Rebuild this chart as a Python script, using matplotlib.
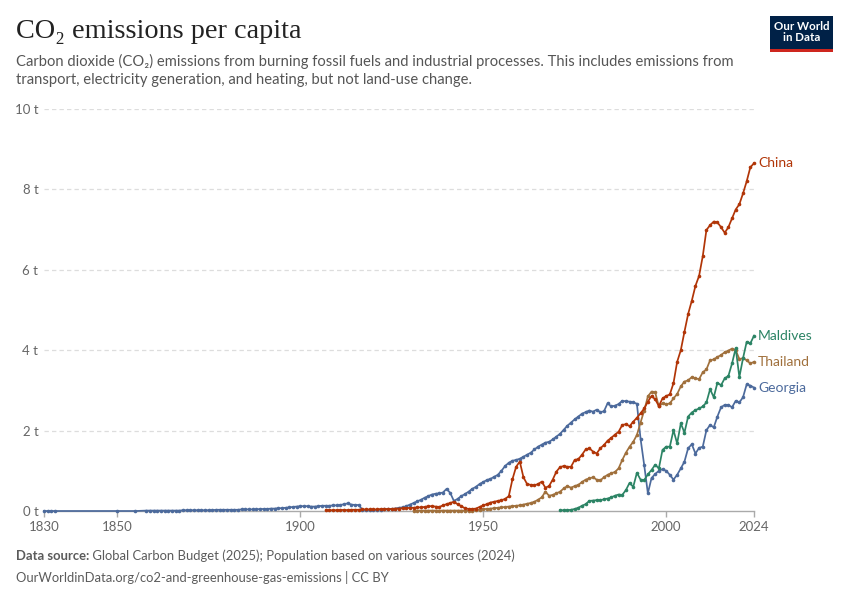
import matplotlib
matplotlib.use("Agg")
import matplotlib.pyplot as plt
from matplotlib.patches import Rectangle

# ---------------- data (tonnes CO2 per person) ----------------
georgia_years = [1830, 1831, 1832, 1833, 1850, 1855] + list(range(1858, 2025))
georgia_values = [
    0.0, 0.0, 0.0, 0.0, 0.0, 0.0,
    # 1858-1869
    0.01, 0.01, 0.01, 0.01, 0.01, 0.01, 0.01, 0.01, 0.01, 0.01, 0.02, 0.02,
    # 1870-1879
    0.02, 0.02, 0.02, 0.02, 0.02, 0.02, 0.02, 0.03, 0.03, 0.03,
    # 1880-1889
    0.03, 0.03, 0.03, 0.03, 0.04, 0.04, 0.04, 0.04, 0.04, 0.05,
    # 1890-1899
    0.05, 0.05, 0.06, 0.06, 0.07, 0.07, 0.08, 0.09, 0.10, 0.11,
    # 1900-1916
    0.12, 0.12, 0.12, 0.11, 0.11, 0.12, 0.13, 0.13, 0.13, 0.14, 0.14, 0.15, 0.17, 0.19, 0.16, 0.15, 0.15,
    # 1917-1929
    0.03, 0.02, 0.02, 0.02, 0.03, 0.03, 0.04, 0.04, 0.05, 0.06, 0.08, 0.09, 0.12,
    # 1930-1939
    0.16, 0.20, 0.24, 0.28, 0.33, 0.37, 0.41, 0.43, 0.44, 0.46,
    # 1940-1949
    0.55, 0.45, 0.25, 0.30, 0.37, 0.42, 0.48, 0.55, 0.60, 0.67,
    # 1950-1959
    0.72, 0.77, 0.80, 0.85, 0.90, 1.00, 1.12, 1.20, 1.25, 1.27,
    # 1960-1969
    1.30, 1.35, 1.40, 1.45, 1.53, 1.60, 1.65, 1.70, 1.72, 1.78,
    # 1970-1979
    1.85, 1.92, 2.02, 2.12, 2.20, 2.28, 2.35, 2.42, 2.46, 2.50,
    # 1980-1989
    2.47, 2.52, 2.46, 2.48, 2.68, 2.60, 2.62, 2.66, 2.74, 2.73,
    # 1990-1999
    2.72, 2.70, 2.67, 1.80, 1.14, 0.44, 0.82, 0.92, 1.00, 1.04,
    # 2000-2009
    1.00, 0.90, 0.78, 0.90, 1.06, 1.23, 1.56, 1.66, 1.43, 1.57,
    # 2010-2019
    1.60, 2.01, 2.14, 2.08, 2.35, 2.58, 2.64, 2.64, 2.58, 2.74,
    # 2020-2024
    2.70, 2.83, 3.15, 3.12, 3.07,
]

china_years = list(range(1907, 2025))
china_values = [
    # 1907-1916
    0.02, 0.02, 0.02, 0.02, 0.02, 0.03, 0.02, 0.03, 0.03, 0.03,
    # 1917-1929
    0.04, 0.04, 0.04, 0.04, 0.04, 0.05, 0.05, 0.05, 0.05, 0.06, 0.06, 0.07, 0.07,
    # 1930-1939
    0.08, 0.08, 0.09, 0.09, 0.10, 0.12, 0.12, 0.11, 0.10, 0.14,
    # 1940-1949
    0.17, 0.20, 0.23, 0.17, 0.12, 0.07, 0.05, 0.05, 0.06, 0.10,
    # 1950-1959
    0.14, 0.17, 0.21, 0.23, 0.25, 0.27, 0.30, 0.37, 0.79, 1.10,
    # 1960-1969
    1.23, 0.84, 0.67, 0.65, 0.64, 0.67, 0.73, 0.58, 0.62, 0.78,
    # 1970-1979
    0.98, 1.09, 1.12, 1.10, 1.10, 1.27, 1.29, 1.40, 1.53, 1.56,
    # 1980-1989
    1.48, 1.43, 1.56, 1.64, 1.75, 1.82, 1.90, 1.97, 2.14, 2.16,
    # 1990-1999
    2.11, 2.22, 2.32, 2.43, 2.55, 2.72, 2.86, 2.78, 2.61, 2.80,
    # 2000-2009
    2.86, 2.90, 3.18, 3.71, 4.00, 4.46, 4.90, 5.23, 5.60, 5.85,
    # 2010-2019
    6.34, 6.99, 7.11, 7.20, 7.18, 7.06, 6.92, 7.06, 7.28, 7.50,
    # 2020-2024
    7.63, 7.90, 8.20, 8.55, 8.65,
]

thailand_years = list(range(1931, 2025))
thailand_values = [
    # 1931-1947
    0.01, 0.01, 0.01, 0.01, 0.01, 0.01, 0.01, 0.01, 0.01, 0.01, 0.01, 0.01, 0.01, 0.01, 0.01, 0.01, 0.01,
    # 1948-1959
    0.02, 0.03, 0.05, 0.05, 0.06, 0.07, 0.08, 0.09, 0.10, 0.11, 0.12, 0.13,
    # 1960-1969
    0.14, 0.16, 0.18, 0.20, 0.23, 0.28, 0.34, 0.48, 0.38, 0.40,
    # 1970-1979
    0.44, 0.48, 0.56, 0.62, 0.58, 0.62, 0.65, 0.72, 0.78, 0.81,
    # 1980-1989
    0.84, 0.78, 0.76, 0.84, 0.90, 0.94, 0.97, 1.06, 1.27, 1.45,
    # 1990-1999
    1.60, 1.72, 1.89, 2.20, 2.50, 2.85, 2.97, 2.95, 2.60, 2.68,
    # 2000-2009
    2.65, 2.68, 2.80, 2.91, 3.10, 3.22, 3.25, 3.33, 3.30, 3.28,
    # 2010-2019
    3.45, 3.52, 3.75, 3.77, 3.83, 3.88, 3.95, 3.99, 4.04, 4.00,
    # 2020-2024
    3.78, 3.80, 3.75, 3.67, 3.71,
]

maldives_years = list(range(1971, 2025))
maldives_values = [
    # 1971-1979
    0.02, 0.02, 0.02, 0.03, 0.05, 0.08, 0.13, 0.17, 0.25,
    # 1980-1989
    0.26, 0.27, 0.27, 0.29, 0.31, 0.34, 0.38, 0.41, 0.40, 0.52,
    # 1990-1999
    0.70, 0.60, 0.95, 0.78, 0.77, 0.91, 1.02, 1.15, 1.06, 1.52,
    # 2000-2009
    1.60, 1.60, 2.01, 1.68, 2.18, 1.95, 2.35, 2.45, 2.51, 2.55,
    # 2010-2019
    2.60, 2.70, 3.03, 2.83, 3.19, 3.13, 3.30, 3.36, 3.67, 4.05,
    # 2020-2024
    3.33, 3.80, 4.21, 4.17, 4.36,
]

series_names = ["Georgia", "Thailand", "China", "Maldives"]
series_colors = ["#4C6A9C", "#A0703C", "#B13507", "#2C8465"]

x_ticks = [1830, 1850, 1900, 1950, 2000, 2024]
y_ticks = [0, 2, 4, 6, 8, 10]
y_tick_labels = ["0 t", "2 t", "4 t", "6 t", "8 t", "10 t"]

title = "CO\u2082 emissions per capita"
subtitle = ("Carbon dioxide (CO\u2082) emissions from burning fossil fuels and industrial processes. "
            "This includes emissions from\ntransport, electricity generation, and heating, but not land-use change.")
source_bold = "Data source:"
source_rest = " Global Carbon Budget (2025); Population based on various sources (2024)"
url_line = "OurWorldinData.org/co2-and-greenhouse-gas-emissions | CC BY"

# ---------------- figure ----------------
W, H = 850, 600
fig = plt.figure(figsize=(W / 100, H / 100), dpi=100)
fig.patch.set_facecolor("white")

def fx(px):
    return px / W

def fy(py):
    return 1 - py / H

SANS = ["Lato", "DejaVu Sans"]
SERIF = ["Liberation Serif", "DejaVu Serif"]

ax = fig.add_axes([fx(44), fy(511), fx(754) - fx(44), fy(109) - fy(511)])
ax.set_xlim(1830, 2024)
ax.set_ylim(0, 10)

for yv in y_ticks[1:]:
    ax.axhline(yv, color="#dddddd", lw=0.9, ls=(0, (3.5, 2.5)), zorder=1)

data = {
    "Georgia": (georgia_years, georgia_values),
    "Thailand": (thailand_years, thailand_values),
    "China": (china_years, china_values),
    "Maldives": (maldives_years, maldives_values),
}

for name, color in zip(series_names, series_colors):
    xs, ys = data[name]
    ax.plot(xs, ys, color=color, lw=1.25, marker="o", ms=2.6, mew=0,
            zorder=3, clip_on=False)
    ax.annotate(name, xy=(xs[-1], ys[-1]), xytext=(2.8, 0), textcoords="offset points",
                color=color, fontsize=10, family=SANS, va="center", ha="left",
                annotation_clip=False)

for s in ["top", "right", "left"]:
    ax.spines[s].set_visible(False)
ax.spines["bottom"].set_color("#aaaaaa")
ax.spines["bottom"].set_linewidth(1.0)
ax.spines["bottom"].set_zorder(2)

ax.set_xticks(x_ticks)
ax.set_xticklabels([str(v) for v in x_ticks])
ax.set_yticks(y_ticks)
ax.set_yticklabels(y_tick_labels)
ax.tick_params(axis="x", length=4, width=1, color="#aaaaaa", pad=3,
               labelsize=9.5, labelcolor="#666666")
ax.tick_params(axis="y", length=0, pad=4, labelsize=9.5, labelcolor="#666666")
for lab in ax.get_xticklabels() + ax.get_yticklabels():
    lab.set_family(SANS)

# ---------------- header ----------------
fig.text(fx(16), fy(32), title, family=SERIF, fontsize=20.3, color="#222222",
         va="center", ha="left")
fig.text(fx(16), fy(70.5), subtitle, family=SANS, fontsize=10.65, color="#555555",
         va="center", ha="left", linespacing=1.42)

# logo
fig.patches.append(Rectangle((fx(770), fy(52)), fx(833) - fx(770), fy(16) - fy(52),
                             transform=fig.transFigure, facecolor="#002147",
                             edgecolor="none", zorder=5))
fig.patches.append(Rectangle((fx(770), fy(52)), fx(833) - fx(770), fy(49) - fy(52),
                             transform=fig.transFigure, facecolor="#CE261E",
                             edgecolor="none", zorder=6))
fig.text(fx(801.5), fy(32), "Our World\nin Data", family=SANS, fontsize=8.3,
         color="white", ha="center", va="center", linespacing=1.05,
         fontweight="bold", zorder=7)

# ---------------- footer ----------------
renderer = fig.canvas.get_renderer()
t1 = fig.text(fx(16), fy(556), source_bold, family=SANS, fontsize=9.4,
              color="#5b5b5b", fontweight="bold", va="center", ha="left")
bb = t1.get_window_extent(renderer=renderer)
fig.text(bb.x1 / W, fy(556), source_rest, family=SANS, fontsize=9.4,
         color="#5b5b5b", va="center", ha="left")
fig.text(fx(16), fy(577), url_line, family=SANS, fontsize=9.4,
         color="#5b5b5b", va="center", ha="left")

fig.savefig("out.png", dpi=100, facecolor="white")
